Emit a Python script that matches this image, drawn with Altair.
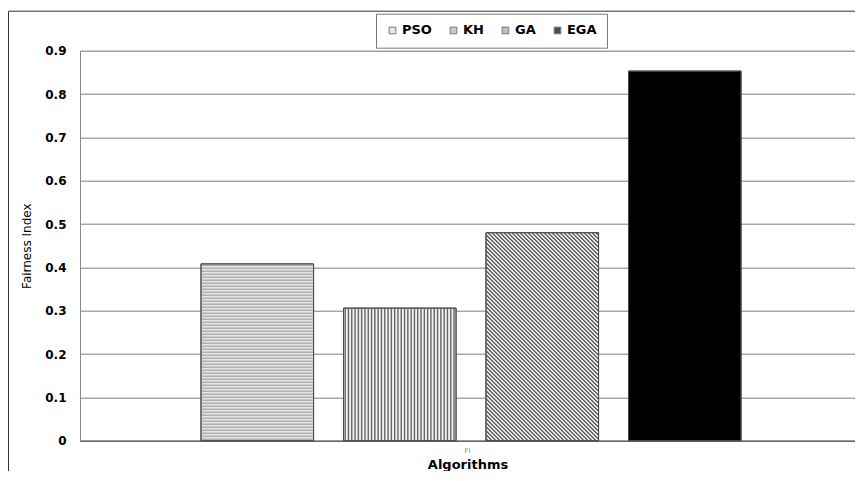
import json
import altair as alt
import pandas as pd

# ---- data ----
algorithms = ["PSO", "KH", "GA", "EGA"]
fairness = [0.408, 0.306, 0.48, 0.853]
metric = ["FI", "FI", "FI", "FI"]
y_ticks = [0, 0.1, 0.2, 0.3, 0.4, 0.5, 0.6, 0.7, 0.8, 0.9]
legend_fills = ["#dcdcdc", "#b4b4b4", "#a0a0a0", "#000000"]
bar_fills = ["#e4e4e4", "#f2f2f2", "#ffffff", "#000000"]

df = pd.DataFrame(
    {"Algorithm": algorithms, "Value": fairness, "Metric": metric, "Fill": bar_fills}
)

FONT = "DejaVu Sans"

# ---- layout ----
W_PX, H_PX = 775, 390
STEP_PX = 142.5                      # bar step in pixels
LEFT_PX = 121.0                      # gap before first bar
P_IN = 0.21                          # gap between bars, fraction of step
D = W_PX / STEP_PX                   # overlay domain, in bar steps
P_OUT = (D - (4 - P_IN)) / 2
ALIGN = LEFT_PX / (2 * P_OUT * STEP_PX)
LEFT = LEFT_PX / STEP_PX
PX_X = D / W_PX                      # overlay x units per pixel
PX_Y = 0.9 / H_PX                    # y units per pixel

y_axis = alt.Axis(
    title="Fairness Index",
    values=y_ticks,
    labelExpr="datum.value == 0 ? '0' : format(datum.value, '.1f')",
    labelFont=FONT,
    labelFontSize=12,
    labelFontWeight="bold",
    labelColor="black",
    labelPadding=14,
    ticks=False,
    titleFont=FONT,
    titleFontSize=12,
    titleFontWeight="normal",
    titleColor="black",
    titlePadding=11,
    gridColor="#808080",
    gridWidth=1,
    domainColor="#888888",
)
y_scale = alt.Scale(domain=[0, 0.9], nice=False)


def Y(field):
    return alt.Y(field, type="quantitative", scale=y_scale, axis=y_axis)


x_axis = alt.Axis(
    title="Algorithms",
    labelAngle=0,
    labelFontSize=7,
    labelColor="#888888",
    labelFont=FONT,
    labelPadding=6,
    ticks=False,
    titleFont=FONT,
    titleFontSize=13,
    titleFontWeight="bold",
    titleColor="black",
    titlePadding=5,
    domainColor="#666666",
    domainWidth=1.5,
)


def X(axis):
    return alt.X("Metric:N", scale=alt.Scale(paddingInner=0, paddingOuter=0), axis=axis)


xo_enc = alt.XOffset(
    "Algorithm:N",
    scale=alt.Scale(domain=algorithms, paddingInner=P_IN, paddingOuter=P_OUT, align=ALIGN),
)
xq_scale = alt.Scale(domain=[0, D], nice=False, zero=False)

base = alt.Chart(df)

bars = base.mark_bar(stroke="#4d4d4d", strokeWidth=1).encode(
    x=X(x_axis),
    xOffset=xo_enc,
    y=Y("Value"),
    fill=alt.Fill("Fill:N", scale=None, legend=None),
)

idx_expr = "indexof(%s, datum.Algorithm)" % json.dumps(algorithms)
overlay = base.transform_calculate(idx=idx_expr).transform_calculate(
    L="%f + datum.idx" % LEFT
).transform_calculate(R="datum.L + %f" % (1 - P_IN))

# PSO: horizontal hatch
step_h = 3 * PX_Y
pso_lines = (
    overlay.transform_filter(alt.datum.Algorithm == "PSO")
    .transform_calculate(hs="sequence(%f, datum.Value, %f)" % (step_h / 2, step_h))
    .transform_flatten(["hs"])
    .mark_rule(color="#9a9a9a", strokeWidth=1)
    .encode(
        x=alt.X("L:Q", scale=xq_scale, axis=None),
        x2="R:Q",
        y=Y("hs"),
    )
)

# KH: vertical hatch
step_v = 3.3 * PX_X
kh_lines = (
    overlay.transform_filter(alt.datum.Algorithm == "KH")
    .transform_calculate(xs="sequence(datum.L + %f, datum.R, %f)" % (step_v / 2, step_v))
    .transform_flatten(["xs"])
    .transform_calculate(zero="0")
    .mark_rule(color="#666666", strokeWidth=1.4)
    .encode(
        x=alt.X("xs:Q", scale=xq_scale, axis=None),
        y=Y("zero"),
        y2="Value:Q",
    )
)

# GA: diagonal hatch (down-right)
W_BAR = (1 - P_IN) / PX_X
step_d = 4.0
ga_lines = (
    overlay.transform_filter(alt.datum.Algorithm == "GA")
    .transform_calculate(Hp="datum.Value / %f" % PX_Y)
    .transform_calculate(cs="sequence(%f, %f + datum.Hp, %f)" % (step_d / 2, W_BAR, step_d))
    .transform_flatten(["cs"])
    .transform_calculate(u1="max(0, datum.cs - datum.Hp)", u2="min(%f, datum.cs)" % W_BAR)
    .transform_calculate(
        gx1="datum.L + datum.u1 * %f" % PX_X,
        gy1="(datum.cs - datum.u1) * %f" % PX_Y,
        gx2="datum.L + datum.u2 * %f" % PX_X,
        gy2="(datum.cs - datum.u2) * %f" % PX_Y,
    )
    .mark_rule(color="#555555", strokeWidth=1.4)
    .encode(
        x=alt.X("gx1:Q", scale=xq_scale, axis=None),
        x2="gx2:Q",
        y=Y("gy1"),
        y2="gy2:Q",
    )
)

outline = base.mark_bar(fillOpacity=0, stroke="#4d4d4d", strokeWidth=1).encode(
    x=X(None), xOffset=xo_enc, y=Y("Value")
)

legend_layer = base.mark_square(size=0, filled=True).encode(
    x=X(None),
    xOffset=xo_enc,
    y=Y("Value"),
    color=alt.Color(
        "Algorithm:N",
        scale=alt.Scale(domain=algorithms, range=legend_fills),
        legend=alt.Legend(
            title=None,
            orient="none",
            legendX=296,
            legendY=-37,
            direction="horizontal",
            symbolType="square",
            symbolSize=45,
            symbolStrokeColor="#444444",
            symbolStrokeWidth=1,
            labelFont=FONT,
            labelFontSize=13,
            labelFontWeight="bold",
            labelColor="black",
            labelOffset=3,
            columnPadding=15,
            padding=10,
            strokeColor="#777777",
            fillColor="white",
        ),
    ),
)

frame_data = alt.Data(values=[{"a": 1}])
frame_top = alt.Chart(frame_data).mark_rule(color="#333333", strokeWidth=1).encode(
    x=alt.value(-71.5), x2=alt.value(790), y=alt.value(-39.5)
)
frame_left = alt.Chart(frame_data).mark_rule(color="#333333", strokeWidth=1).encode(
    x=alt.value(-71.5), y=alt.value(-39.5), y2=alt.value(440)
)

chart = (
    alt.layer(bars, pso_lines, kh_lines, ga_lines, outline, legend_layer, frame_top, frame_left)
    .resolve_scale(x="independent", xOffset="independent")
    .properties(
        width=W_PX,
        height=H_PX,
        autosize=alt.AutoSizeParams(type="none"),
        padding={"left": 72, "top": 42.7, "right": 0, "bottom": 30.5},
    )
    .configure_view(stroke="#888888", strokeWidth=1)
    .configure(background="white")
)

chart.save("out.html", embed_options={"renderer": "svg", "actions": False})
